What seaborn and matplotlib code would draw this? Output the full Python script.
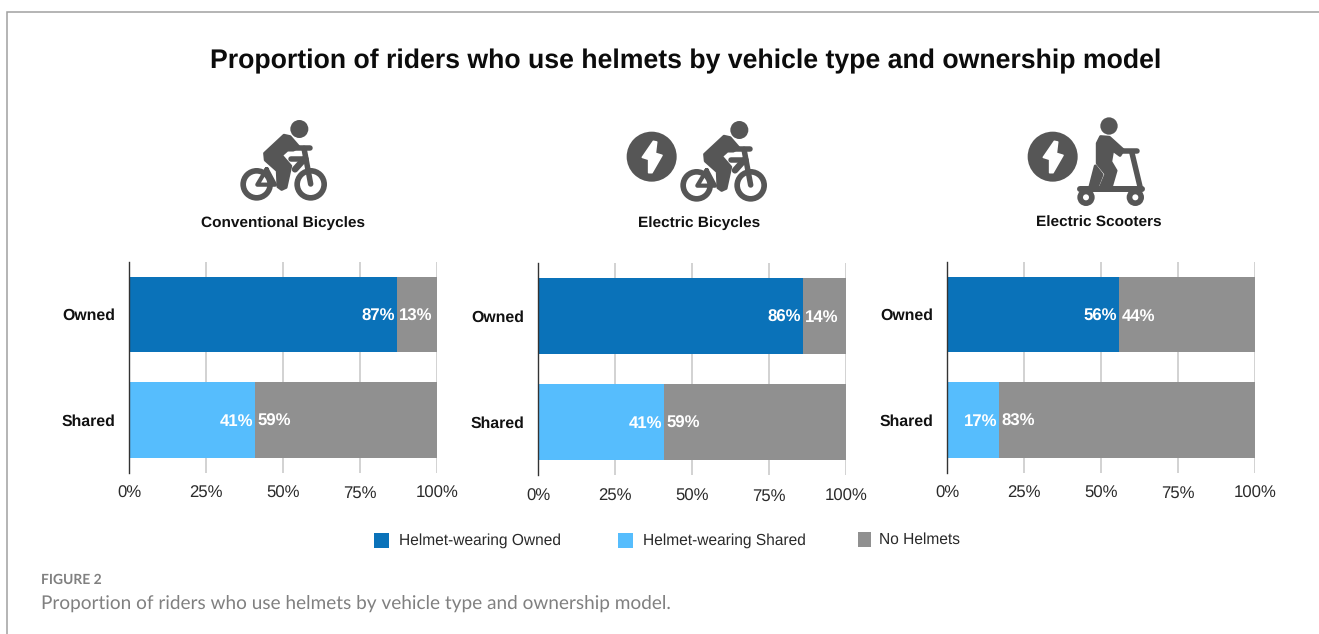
import matplotlib
matplotlib.use("Agg")
import matplotlib.pyplot as plt
from matplotlib.patches import Circle, Polygon, Rectangle
from matplotlib.ticker import FuncFormatter
import pandas as pd
import seaborn as sns

W, H = 1319, 634

vehicle_types = ["Conventional Bicycles", "Electric Bicycles", "Electric Scooters"]
ownership = ["Owned", "Shared"]
helmet_pct = [[87, 41], [86, 41], [56, 17]]
no_helmet_pct = [[13, 59], [14, 59], [44, 83]]
ticks = [0, 25, 50, 75, 100]

title = "Proportion of riders who use helmets by vehicle type and ownership model"
fig_label = "FIGURE 2"
caption = "Proportion of riders who use helmets by vehicle type and ownership model."
legend_labels = ["Helmet-wearing Owned", "Helmet-wearing Shared", "No Helmets"]

C_OWNED = "#0a72b9"
C_SHARED = "#56bdfd"
C_NONE = "#909090"
C_ICON = "#565656"
C_GRID = "#d2d2d2"
C_FRAME = "#a0a0a0"
C_CAPTION = "#808080"

sns.set_theme(style="white")
plt.rcParams["font.family"] = ["Liberation Sans", "DejaVu Sans"]
plt.rcParams["text.hinting"] = "none"
plt.rcParams["text.hinting_factor"] = 8

fig = plt.figure(figsize=(W / 100, H / 100), dpi=100, facecolor="white")

# Full-figure layer in pixel units for the frame, pictograms and legend
bg = fig.add_axes([0, 0, 1, 1], zorder=0)
bg.set_xlim(0, W)
bg.set_ylim(H, 0)
bg.axis("off")
bg.plot([6.8, 6.8, W], [H, 12, 12], color=C_FRAME, lw=1.1, solid_joinstyle="miter")


def stroke(pts, lw, ox, oy):
    xs = [ox + p[0] / 3 for p in pts]
    ys = [oy + p[1] / 3 for p in pts]
    bg.plot(xs, ys, color=C_ICON, lw=lw * 0.72, solid_capstyle="round",
            solid_joinstyle="round")


def blob(pts, ox, oy, fc=C_ICON):
    bg.add_patch(Polygon([(ox + p[0] / 3, oy + p[1] / 3) for p in pts], closed=True,
                         fc=fc, ec=fc, lw=2.2, joinstyle="round"))


def disc(cx, cy, r, ox, oy, fc=C_ICON):
    bg.add_patch(Circle((ox + cx / 3, oy + cy / 3), r / 3, fc=fc, ec="none"))


def rider_bike(ox, oy):
    disc(298, 87, 27, ox, oy)
    # wheels
    for cx in (170, 332):
        disc(cx, 253, 49, ox, oy)
        disc(cx, 253, 32, ox, oy, fc="white")
    # frame
    stroke([(200, 207), (172, 254), (225, 254), (200, 207)], 4.2, ox, oy)
    stroke([(272, 178), (318, 178)], 5.5, ox, oy)
    stroke([(312, 145), (332, 252)], 5.5, ox, oy)
    stroke([(285, 208), (312, 178)], 6.5, ox, oy)
    stroke([(270, 143), (330, 143)], 5.5, ox, oy)
    # torso and leg
    blob([(252, 106), (270, 110), (296, 140), (280, 150), (262, 150), (244, 166),
          (272, 198), (258, 262), (245, 268), (234, 260), (232, 212), (196, 180),
          (194, 160)], ox, oy)


def bolt_disc(cx, cy, r, ox, oy):
    disc(cx, cy, r, ox, oy)
    bolt = [(160, 124), (127, 172), (146, 178), (146, 218), (156, 218),
            (186, 166), (166, 160), (170, 126)]
    dx, dy = cx - 155, cy - 170
    bg.add_patch(Polygon([(ox + (p[0] + dx) / 3, oy + (p[1] + dy) / 3) for p in bolt],
                         closed=True, fc="white", ec="white", lw=1.2, joinstyle="round"))


def rider_scooter(ox, oy):
    disc(297, 78, 26, ox, oy)
    # deck, wheels and steering column
    stroke([(210, 268), (395, 268)], 6, ox, oy)
    for cx in (228, 376):
        disc(cx, 292, 26, ox, oy)
        disc(cx, 292, 9, ox, oy, fc="white")
    stroke([(365, 155), (392, 268)], 5.5, ox, oy)
    stroke([(335, 152), (380, 152)], 5.5, ox, oy)
    # rider
    blob([(272, 110), (298, 112), (340, 150), (330, 166), (308, 150), (302, 185),
          (318, 212), (304, 260), (272, 260), (288, 222), (262, 190), (262, 130)], ox, oy)
    blob([(256, 198), (276, 224), (262, 260), (240, 260)], ox, oy)


rider_bike(200, 100)
bolt_disc(155, 170, 75, 600, 100)
rider_bike(640, 101)
bolt_disc(128, 170, 75, 1010, 100)
rider_scooter(1010, 100)

bg.text(685.5, 61, title, ha="center", va="center", fontsize=19.2,
        fontweight="bold", color="#0c0c0c")

# Stacked bars: the full-width grey bar sits behind the helmet share
panel_left = [129, 538, 947]
panel_w = 308
ax_top = [261.75, 262.5, 261.75]
ax_bot = [472.75, 475, 472.75]
for i, name in enumerate(vehicle_types):
    ax = fig.add_axes([panel_left[i] / W, 1 - ax_bot[i] / H, panel_w / W,
                       (ax_bot[i] - ax_top[i]) / H], zorder=2)
    ax.patch.set_alpha(0)
    df = pd.DataFrame({
        "ownership": ownership,
        "helmet": helmet_pct[i],
        "none": no_helmet_pct[i],
    })
    df["total"] = df["helmet"] + df["none"]
    ax.set_axisbelow(True)
    sns.barplot(data=df, y="ownership", x="total", order=ownership, color=C_NONE,
                saturation=1, width=0.715, linewidth=0, ax=ax, zorder=2)
    sns.barplot(data=df, y="ownership", x="helmet", hue="ownership", order=ownership,
                hue_order=ownership, palette=[C_OWNED, C_SHARED], saturation=1,
                width=0.715, linewidth=0, legend=False, dodge=False, ax=ax, zorder=3)
    ax.set_xlim(0, 100)
    ax.set_ylim(1.5, -0.5)
    ax.set_xticks(ticks)
    ax.xaxis.set_major_formatter(FuncFormatter(lambda v, _: f"{v:.0f}%"))
    ax.xaxis.grid(True, color=C_GRID, lw=1.4)
    ax.yaxis.grid(False)
    ax.set_xlabel("")
    ax.set_ylabel("")
    for side in ("top", "right", "bottom"):
        ax.spines[side].set_visible(False)
    ax.spines["left"].set_color("#333333")
    ax.spines["left"].set_linewidth(1)
    ax.spines["left"].set_zorder(6)
    ax.tick_params(axis="x", length=0, labelsize=12.1, labelcolor="#2a2a2a", pad=9.5)
    ax.tick_params(axis="y", length=0, labelsize=11.4, labelcolor="#111111", pad=9.7)
    for lab in ax.get_yticklabels():
        lab.set_fontweight("bold")
    for row, (h, n) in enumerate(zip(helmet_pct[i], no_helmet_pct[i])):
        ax.annotate(f"{h}%", (h, row), xytext=(-1.6, -1.2), textcoords="offset points", ha="right",
                    va="center", color="white", fontweight="bold", fontsize=12.1, zorder=5)
        ax.annotate(f"{n}%", (h, row), xytext=(1.6, -1.2), textcoords="offset points", ha="left",
                    va="center", color="white", fontweight="bold", fontsize=12.1, zorder=5)
    bg.text(panel_left[i] + [154, 161, 152][i], 227, name, ha="center", va="baseline",
            fontsize=11.05, fontweight="bold", color="#111111")

# Legend swatches and labels
for x, colour, label, y in zip([374, 618, 858], [C_OWNED, C_SHARED, C_NONE], legend_labels,
                               [540, 540, 539]):
    bg.add_patch(Rectangle((x, y - 7.5), 15 if x < 800 else 13, 15, fc=colour, ec="none"))
    bg.text(x + 25 if x < 800 else x + 21, y + 0.5, label, ha="left", va="center",
            fontsize=11.2, color="#2a2a2a")

bg.text(41, 580, fig_label, ha="left", va="center", fontsize=10, color=C_CAPTION,
        fontweight="bold", family=["Lato", "DejaVu Sans"])
bg.text(41, 603, caption, ha="left", va="center", fontsize=13.7, color=C_CAPTION,
        family=["Lato", "DejaVu Sans"])

fig.savefig("out.png", dpi=100, facecolor="white")
